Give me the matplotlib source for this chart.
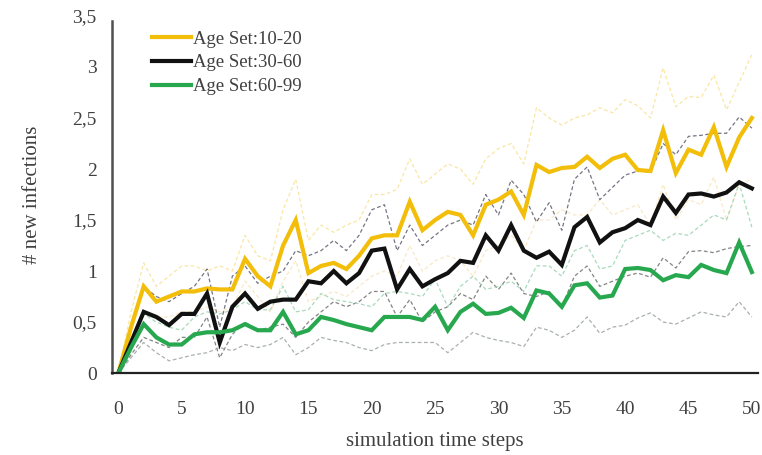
import matplotlib
matplotlib.use("Agg")
import matplotlib.pyplot as plt
from matplotlib.ticker import FuncFormatter

plt.rcParams['font.family'] = ['Liberation Serif', 'DejaVu Serif']

steps = list(range(0, 51))

# Age Set 10-20 (mean, upper, lower)
y1020 = [0, 0.45, 0.85, 0.70, 0.75, 0.80, 0.80, 0.83, 0.82, 0.82,
         1.12, 0.95, 0.85, 1.25, 1.50, 0.98, 1.05, 1.08, 1.02, 1.15,
         1.32, 1.35, 1.35, 1.68, 1.40, 1.50, 1.58, 1.55, 1.35, 1.65,
         1.70, 1.78, 1.55, 2.04, 1.97, 2.01, 2.02, 2.12, 2.01, 2.10,
         2.14, 1.99, 1.98, 2.38, 1.96, 2.19, 2.14, 2.41, 2.02, 2.31, 2.50]
y1020_hi = [0, 0.60, 1.08, 0.85, 0.95, 1.05, 1.05, 1.00, 1.05, 1.00,
            1.35, 1.15, 1.10, 1.60, 1.90, 1.30, 1.45, 1.38, 1.45, 1.50,
            1.75, 1.75, 1.80, 2.10, 1.85, 1.95, 2.05, 2.00, 1.85, 2.10,
            2.20, 2.25, 2.05, 2.60, 2.50, 2.43, 2.50, 2.53, 2.60, 2.55,
            2.68, 2.62, 2.50, 2.99, 2.61, 2.71, 2.70, 2.92, 2.58, 2.85, 3.12]
y1020_lo = [0, 0.30, 0.60, 0.55, 0.55, 0.60, 0.60, 0.65, 0.60, 0.65,
            0.90, 0.75, 0.60, 0.90, 1.10, 0.70, 0.75, 0.80, 0.75, 0.85,
            0.95, 1.00, 0.95, 1.25, 1.00, 1.10, 1.15, 1.10, 0.95, 1.20,
            1.25, 1.35, 1.20, 1.50, 1.50, 1.60, 1.55, 1.55, 1.70, 1.55,
            1.60, 1.65, 1.45, 1.85, 1.50, 1.70, 1.65, 1.92, 1.50, 1.85, 1.90]

# Age Set 30-60
y3060 = [0, 0.30, 0.60, 0.55, 0.47, 0.58, 0.58, 0.78, 0.30, 0.65,
         0.78, 0.63, 0.70, 0.72, 0.72, 0.90, 0.88, 1.00, 0.88, 0.98,
         1.20, 1.22, 0.82, 1.02, 0.85, 0.92, 0.98, 1.10, 1.08, 1.35,
         1.20, 1.45, 1.20, 1.13, 1.19, 1.06, 1.43, 1.53, 1.28, 1.38,
         1.42, 1.50, 1.45, 1.73, 1.57, 1.75, 1.76, 1.73, 1.77, 1.87, 1.81]
y3060_hi = [0, 0.42, 0.85, 0.75, 0.70, 0.78, 0.85, 1.02, 0.45, 0.95,
            1.05, 0.88, 0.95, 1.00, 1.20, 1.15, 1.20, 1.30, 1.20, 1.35,
            1.60, 1.65, 1.20, 1.45, 1.25, 1.35, 1.45, 1.50, 1.45, 1.75,
            1.55, 1.89, 1.75, 1.48, 1.67, 1.40, 1.90, 2.02, 1.70, 1.82,
            1.94, 1.98, 1.97, 2.25, 2.14, 2.32, 2.33, 2.35, 2.35, 2.51, 2.40]
y3060_lo = [0, 0.18, 0.35, 0.30, 0.25, 0.35, 0.35, 0.55, 0.15, 0.38,
            0.50, 0.42, 0.45, 0.48, 0.35, 0.50, 0.60, 0.70, 0.65, 0.70,
            0.80, 0.80, 0.55, 0.72, 0.50, 0.60, 0.65, 0.78, 0.72, 0.95,
            0.82, 0.98, 0.78, 0.75, 0.80, 0.65, 0.95, 1.05, 0.85, 0.90,
            0.95, 0.98, 0.94, 1.13, 1.03, 1.19, 1.20, 1.18, 1.22, 1.24, 1.25]

# Age Set 60-99
y6099 = [0, 0.25, 0.48, 0.35, 0.28, 0.28, 0.38, 0.40, 0.40, 0.42,
         0.48, 0.42, 0.42, 0.60, 0.38, 0.42, 0.55, 0.52, 0.48, 0.45,
         0.42, 0.55, 0.55, 0.55, 0.52, 0.65, 0.42, 0.60, 0.68, 0.58,
         0.59, 0.64, 0.54, 0.81, 0.78, 0.65, 0.86, 0.88, 0.74, 0.76,
         1.02, 1.03, 1.01, 0.91, 0.96, 0.94, 1.06, 1.01, 0.98, 1.28, 0.99]
y6099_hi = [0, 0.32, 0.58, 0.50, 0.45, 0.42, 0.55, 0.60, 0.58, 0.62,
            0.70, 0.62, 0.62, 0.85, 0.60, 0.62, 0.78, 0.72, 0.70, 0.68,
            0.65, 0.78, 0.80, 0.78, 0.75, 0.92, 0.65, 0.85, 0.95, 0.82,
            0.85, 0.90, 0.80, 1.05, 1.05, 0.95, 1.20, 1.25, 1.02, 1.05,
            1.30, 1.35, 1.40, 1.30, 1.37, 1.35, 1.45, 1.55, 1.50, 1.86, 1.43]
y6099_lo = [0, 0.15, 0.30, 0.20, 0.12, 0.15, 0.18, 0.20, 0.25, 0.22,
            0.28, 0.25, 0.28, 0.35, 0.18, 0.25, 0.35, 0.32, 0.30, 0.25,
            0.22, 0.28, 0.30, 0.30, 0.30, 0.30, 0.20, 0.30, 0.40, 0.35,
            0.32, 0.30, 0.26, 0.45, 0.42, 0.35, 0.42, 0.55, 0.39, 0.45,
            0.47, 0.54, 0.59, 0.50, 0.48, 0.54, 0.60, 0.57, 0.55, 0.70, 0.55]

labels = ['Age Set:10-20', 'Age Set:30-60', 'Age Set:60-99']
yticks = [0, 0.5, 1, 1.5, 2, 2.5, 3, 3.5]
xticks = list(range(0, 51, 5))

c_yellow = '#F2BE0A'
c_black = '#111111'
c_green = '#27A84F'

fig = plt.figure(figsize=(7.62, 4.55), dpi=100)
ax = fig.add_axes([0.147, 0.18, 0.848, 0.785])

dash = (0, (3, 2))
ax.plot(steps, y1020_hi, color='#F7DC80', lw=0.9, ls=dash, alpha=0.7)
ax.plot(steps, y1020_lo, color='#F5D9A0', lw=0.9, ls=dash, alpha=0.6)
ax.plot(steps, y3060_hi, color='#666677', lw=0.9, ls=dash, alpha=0.9)
ax.plot(steps, y3060_lo, color='#666666', lw=0.9, ls=dash, alpha=0.8)
ax.plot(steps, y6099_hi, color='#9FD6B4', lw=0.9, ls=dash, alpha=0.9)
ax.plot(steps, y6099_lo, color='#A0A8A4', lw=0.9, ls=dash, alpha=0.9)

l1, = ax.plot(steps, y1020, color=c_yellow, lw=3.0, solid_joinstyle='miter')
l2, = ax.plot(steps, y3060, color=c_black, lw=3.0, solid_joinstyle='miter')
l3, = ax.plot(steps, y6099, color=c_green, lw=3.0, solid_joinstyle='miter')

ax.set_xlim(-0.5, 50.5)
ax.set_ylim(0, 3.5)
ax.set_xticks(xticks)
ax.set_yticks(yticks)
ax.yaxis.set_major_formatter(FuncFormatter(lambda v, p: ('%g' % v).replace('.', ',')))
ax.tick_params(axis='y', length=0, labelsize=14, colors='#404040', pad=11)
ax.tick_params(axis='x', length=0, labelsize=14, colors='#404040', pad=20)

for s in ['top', 'right']:
    ax.spines[s].set_visible(False)
ax.spines['left'].set_color('#505050')
ax.spines['left'].set_linewidth(1.8)
ax.spines['left'].set_bounds(0, 3.45)
ax.spines['bottom'].set_color('#222222')
ax.spines['bottom'].set_linewidth(1.6)

ax.set_xlabel('simulation time steps', fontsize=15, color='#404040', labelpad=10)
ax.set_ylabel('# new infections', fontsize=15, color='#404040', labelpad=22)

leg = ax.legend([l1, l2, l3], labels, loc='upper left', bbox_to_anchor=(0.05, 0.98),
                frameon=False, fontsize=13.5, handlelength=2.1, handletextpad=0.1,
                labelspacing=0.35, borderaxespad=0.0)
for t in leg.get_texts():
    t.set_color('#404040')

fig.savefig('out.png', dpi=100)
